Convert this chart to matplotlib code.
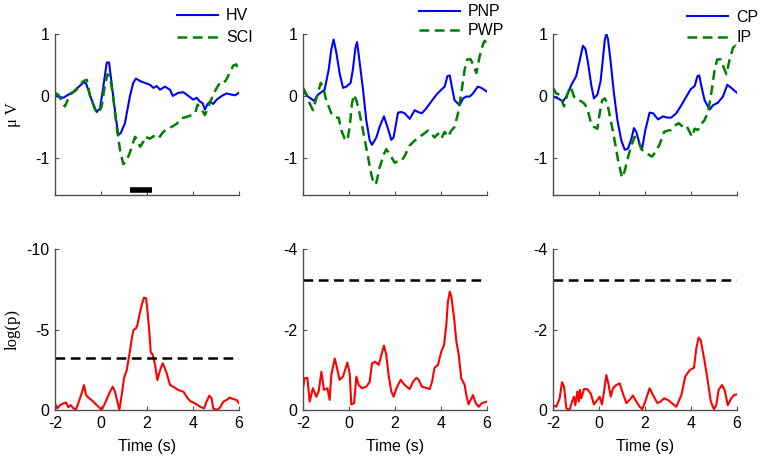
import numpy as np
import matplotlib
matplotlib.use('Agg')
import matplotlib.pyplot as plt

plt.rcParams['font.family'] = ['Liberation Sans', 'DejaVu Sans']
plt.rcParams['axes.unicode_minus'] = False
plt.rcParams['lines.scale_dashes'] = False

# ---- ERP curves (uV) ----
t_hv = [-2, -1.64, -1.2, -0.75, -0.65, -0.4, -0.19, -0.04, 0.1, 0.25, 0.35, 0.46, 0.6, 0.75, 0.86,
        1.04, 1.26, 1.4, 1.52, 1.7, 1.91, 2.13, 2.28, 2.42, 2.57, 2.78, 3.0, 3.12, 3.36, 3.58,
        3.8, 4.01, 4.16, 4.3, 4.42, 4.52, 4.62, 4.74, 4.88, 5.03, 5.25, 5.46, 5.68, 5.83, 6.0]
hv = [0, -0.03, 0.07, 0.22, 0.2, -0.07, -0.26, -0.2, 0.15, 0.54, 0.54, 0.21, -0.22, -0.63, -0.6,
      -0.44, 0, 0.21, 0.28, 0.24, 0.21, 0.18, 0.13, 0.16, 0.1, 0.15, 0.1, 0, 0.05, 0.06,
      0, -0.06, -0.03, -0.09, -0.12, -0.22, -0.14, -0.09, -0.13, -0.06, 0, 0.04, 0.02, 0.01, 0.05]

t_sci = [-2, -1.86, -1.57, -1.35, -1.06, -0.77, -0.62, -0.48, -0.26, -0.12, 0.03, 0.17, 0.29, 0.39, 0.54,
         0.68, 0.83, 0.97, 1.09, 1.26, 1.48, 1.58, 1.7, 1.84, 1.91, 2.13, 2.28, 2.49, 2.71, 2.93,
         3.07, 3.29, 3.51, 3.72, 3.94, 4.09, 4.2, 4.38, 4.52, 4.67, 4.88, 5.03, 5.17, 5.32, 5.46,
         5.6, 5.75, 5.87, 6.0]
sci = [0.05, 0.02, -0.17, 0.02, 0.1, 0.24, 0.26, 0, -0.22, -0.28, -0.17, 0.18, 0.35, 0.32, -0.06,
       -0.5, -0.88, -1.1, -1.07, -0.91, -0.66, -0.72, -0.82, -0.74, -0.66, -0.69, -0.65, -0.69, -0.58, -0.52,
       -0.5, -0.45, -0.36, -0.34, -0.31, -0.28, -0.14, -0.22, -0.31, -0.17, 0.02, 0.13, 0.21, 0.2, 0.27,
       0.38, 0.49, 0.51, 0.43]

t_pnp = [-2, -1.78, -1.52, -1.35, -1.06, -0.88, -0.77, -0.67, -0.55, -0.41, -0.26, -0.12, 0.07, 0.17, 0.28,
         0.35, 0.43, 0.61, 0.75, 0.9, 1.0, 1.19, 1.33, 1.52, 1.67, 1.84, 1.94, 2.13, 2.28, 2.42,
         2.64, 2.86, 3.0, 3.17, 3.36, 3.58, 3.8, 4.01, 4.16, 4.28, 4.38, 4.48, 4.59, 4.81, 4.96,
         5.1, 5.25, 5.39, 5.6, 5.75, 6.0]
pnp = [0.07, -0.01, -0.08, 0.02, 0.1, 0.43, 0.75, 0.91, 0.7, 0.37, 0.13, 0.15, 0.21, 0.43, 0.78,
       0.87, 0.64, 0.1, -0.39, -0.72, -0.79, -0.67, -0.5, -0.33, -0.5, -0.71, -0.67, -0.27, -0.26, -0.28,
       -0.37, -0.23, -0.26, -0.28, -0.2, -0.09, 0.02, 0.1, 0.15, 0.32, 0.33, 0.13, -0.07, -0.15, -0.04,
       -0.01, -0.01, 0.04, 0.15, 0.13, 0.07]

t_pwp = [-2, -1.86, -1.71, -1.57, -1.42, -1.23, -1.13, -0.99, -0.77, -0.59, -0.45, -0.33, -0.19, -0.07, 0.03,
         0.13, 0.22, 0.32, 0.46, 0.61, 0.83, 0.97, 1.09, 1.19, 1.33, 1.52, 1.62, 1.77, 1.99, 2.13,
         2.28, 2.42, 2.64, 2.86, 3.07, 3.26, 3.43, 3.58, 3.72, 3.87, 4.01, 4.16, 4.3, 4.45, 4.59,
         4.74, 4.88, 5.03, 5.14, 5.29, 5.39, 5.54, 5.68, 5.83, 5.9, 6.0]
pwp = [0.13, 0.04, -0.12, -0.23, -0.04, 0.21, 0.15, -0.07, -0.28, -0.35, -0.35, -0.56, -0.69, -0.72, -0.5,
       -0.12, 0.02, -0.07, -0.28, -0.56, -0.99, -1.27, -1.43, -1.4, -1.16, -0.94, -0.86, -0.94, -1.08, -1.05,
       -1.05, -0.97, -0.8, -0.72, -0.66, -0.61, -0.56, -0.61, -0.67, -0.61, -0.69, -0.58, -0.66, -0.56, -0.5,
       -0.28, 0.04, 0.43, 0.59, 0.59, 0.51, 0.37, 0.64, 0.84, 0.89, 0.81]

t_cp = [-2, -1.78, -1.57, -1.42, -1.2, -0.99, -0.84, -0.7, -0.59, -0.48, -0.33, -0.22, -0.07, 0.07, 0.17,
        0.25, 0.32, 0.39, 0.51, 0.65, 0.8, 0.97, 1.12, 1.26, 1.41, 1.52, 1.62, 1.77, 1.88, 2.01,
        2.2, 2.35, 2.57, 2.78, 2.97, 3.14, 3.36, 3.58, 3.8, 3.99, 4.16, 4.28, 4.36, 4.45, 4.59,
        4.81, 4.96, 5.17, 5.39, 5.58, 5.75, 6.0]
cp = [-0.01, -0.04, -0.09, -0.01, 0.18, 0.32, 0.57, 0.81, 0.76, 0.54, 0.16, -0.04, 0.02, 0.24, 0.6,
      0.9, 1.0, 0.92, 0.54, 0.04, -0.39, -0.72, -0.87, -0.85, -0.69, -0.52, -0.58, -0.78, -0.84, -0.56,
      -0.27, -0.28, -0.38, -0.33, -0.35, -0.35, -0.28, -0.15, -0.01, 0.11, 0.16, 0.32, 0.33, 0.16, -0.07,
      -0.22, -0.15, -0.11, -0.01, 0.18, 0.13, 0.05]

t_ip = [-2, -1.86, -1.71, -1.52, -1.38, -1.23, -1.09, -0.94, -0.8, -0.65, -0.51, -0.36, -0.22, -0.07, 0.03,
        0.14, 0.25, 0.36, 0.51, 0.65, 0.83, 1.0, 1.12, 1.26, 1.41, 1.55, 1.7, 1.84, 1.99, 2.13,
        2.3, 2.45, 2.64, 2.83, 3.0, 3.14, 3.29, 3.46, 3.65, 3.8, 3.94, 4.04, 4.16, 4.3, 4.45,
        4.59, 4.74, 4.88, 5.03, 5.14, 5.29, 5.43, 5.54, 5.68, 5.83, 5.93, 6.0]
ip = [0.13, 0.04, 0.02, -0.17, 0.02, 0.15, -0.01, -0.07, -0.08, -0.12, -0.2, -0.42, -0.5, -0.53, -0.28,
      -0.07, -0.04, -0.12, -0.39, -0.66, -1.04, -1.32, -1.21, -0.99, -0.8, -0.66, -0.72, -0.86, -0.91, -0.94,
      -0.98, -0.91, -0.78, -0.58, -0.56, -0.55, -0.48, -0.44, -0.5, -0.48, -0.58, -0.66, -0.53, -0.55, -0.45,
      -0.39, -0.26, 0.04, 0.43, 0.59, 0.59, 0.45, 0.35, 0.59, 0.78, 0.81, 0.73]

# ---- p-value curves (|log p|, drawn as log p) ----
t_p1 = [-2, -1.9, -1.78, -1.64, -1.52, -1.42, -1.32, -1.2, -1.09, -0.99, -0.84, -0.74, -0.65, -0.55, -0.41,
        -0.19, 0.03, 0.17, 0.36, 0.51, 0.61, 0.71, 0.8, 0.9, 1.0, 1.12, 1.23, 1.33, 1.41, 1.52,
        1.58, 1.67, 1.77, 1.87, 1.96, 2.01, 2.1, 2.16, 2.25, 2.35, 2.45, 2.57, 2.68, 2.78, 2.88,
        3.0, 3.14, 3.36, 3.58, 3.72, 3.87, 4.09, 4.3, 4.48, 4.59, 4.71, 4.81, 4.88, 5.03, 5.17,
        5.32, 5.46, 5.6, 5.75, 5.9, 6.0]
p1 = [0.41, 0.1, 0.3, 0.41, 0.46, 0.17, 0.31, 0.1, 0.04, 0.41, 1.04, 1.55, 0.93, 0.77, 0.62,
      0.31, 0, 0.41, 1.04, 1.45, 1.14, 0.52, 0, 0.93, 1.97, 2.48, 3.42, 4.35, 4.97, 5.07,
      5.28, 5.9, 6.52, 6.98, 6.94, 6.31, 4.87, 3.62, 3.42, 2.8, 1.86, 2.48, 2.9, 2.59, 2.17,
      1.55, 1.45, 1.24, 1.14, 0.83, 0.56, 0.41, 0.21, 0.1, 0.52, 0.89, 0.72, 0.1, 0, 0.14,
      0.52, 0.62, 0.77, 0.68, 0.62, 0.41]

t_p2 = [-2, -1.93, -1.81, -1.71, -1.57, -1.42, -1.32, -1.2, -1.09, -0.94, -0.84, -0.77, -0.62, -0.52, -0.41,
        -0.26, -0.07, 0.03, 0.1, 0.22, 0.32, 0.42, 0.57, 0.75, 0.9, 1.0, 1.14, 1.29, 1.41, 1.52,
        1.62, 1.72, 1.84, 1.94, 2.06, 2.25, 2.42, 2.64, 2.78, 2.93, 3.03, 3.17, 3.36, 3.51, 3.61,
        3.72, 3.87, 4.01, 4.13, 4.23, 4.3, 4.38, 4.45, 4.57, 4.67, 4.77, 4.88, 5.03, 5.1, 5.2,
        5.29, 5.39, 5.51, 5.64, 5.78, 6.0]
p2 = [0.54, 0.79, 0.8, 0.21, 0.54, 0.33, 0.46, 0.95, 0.5, 0.54, 0.25, 0.87, 1.28, 1.04, 0.75,
      0.83, 1.18, 0.91, 0.14, 0.17, 0.83, 0.62, 0.54, 0.58, 0.7, 1.16, 1.2, 1.12, 1.37, 1.6,
      1.37, 0.87, 0.46, 0.33, 0.54, 0.75, 0.62, 0.52, 0.7, 0.8, 0.75, 0.58, 0.55, 0.52, 0.7,
      1.05, 1.12, 1.45, 1.61, 2.11, 2.69, 2.94, 2.82, 2.28, 1.7, 1.37, 0.79, 0.62, 0.37, 0.14,
      0.25, 0.37, 0.17, 0.08, 0.17, 0.21]

t_p3 = [-2, -1.86, -1.71, -1.61, -1.52, -1.42, -1.28, -1.17, -1.09, -1.03, -0.94, -0.88, -0.83, -0.77, -0.65,
        -0.51, -0.36, -0.22, -0.07, 0.03, 0.13, 0.22, 0.32, 0.42, 0.51, 0.61, 0.75, 0.9, 1.04, 1.19,
        1.33, 1.48, 1.62, 1.77, 1.88, 2.01, 2.2, 2.35, 2.54, 2.68, 2.83, 3.0, 3.17, 3.36, 3.58,
        3.75, 3.94, 4.13, 4.23, 4.33, 4.42, 4.57, 4.71, 4.86, 5.0, 5.1, 5.2, 5.35, 5.46, 5.6,
        5.75, 5.87, 6.0]
p3 = [0.12, 0.08, 0.29, 0.69, 0.58, 0.04, 0, 0.21, 0.33, 0.12, 0.46, 0.21, 0.5, 0.29, 0.52,
      0.52, 0.41, 0.14, 0.25, 0.33, 0.14, 0.46, 0.87, 0.62, 0.33, 0.54, 0.62, 0.66, 0.41, 0.17,
      0.25, 0.36, 0.21, 0.08, 0.02, 0.21, 0.54, 0.37, 0.17, 0.21, 0.29, 0.25, 0.17, 0.08, 0.37,
      0.83, 0.99, 1.05, 1.53, 1.8, 1.74, 1.28, 0.79, 0.21, 0.02, 0.12, 0.5, 0.62, 0.5, 0.12,
      0.29, 0.37, 0.39]

threshold = -3.22
sig_window = [1.25, 2.2]
sig_level = -1.52

top_sets = [(t_hv, hv, 'HV', t_sci, sci, 'SCI'),
            (t_pnp, pnp, 'PNP', t_pwp, pwp, 'PWP'),
            (t_cp, cp, 'CP', t_ip, ip, 'IP')]
bottom_sets = [(t_p1, p1, -10, [-10, -5, 0]),
               (t_p2, p2, -4, [-4, -2, 0]),
               (t_p3, p3, -4, [-4, -2, 0])]
legend_anchor = [(1.11, 1.20), (1.13, 1.225), (1.15, 1.19)]
legend_space = [0.45, 0.25, 0.35]

fig = plt.figure(figsize=(7.67, 4.62), dpi=100)
lefts = [55 / 767, 303 / 767, 553 / 767]
w = 184 / 767
h = 161 / 462
spine_col = '#505050'


def style(ax):
    for s in ['top', 'right']:
        ax.spines[s].set_visible(False)
    for s in ['left', 'bottom']:
        ax.spines[s].set_color(spine_col)
        ax.spines[s].set_linewidth(1.0)
    ax.tick_params(direction='in', length=3, width=0.8, color=spine_col, labelsize=11.5, pad=4)
    ax.set_xlim(-2, 6)
    ax.set_xticks([-2, 0, 2, 4, 6])


for i in range(3):
    ax = fig.add_axes([lefts[i], 1 - 195 / 462, w, h])
    ta, a, la, tb, b, lb = top_sets[i]
    ax.plot(ta, a, color='#0000ff', lw=1.5, label=la)
    ax.plot(tb, b, color='#008000', lw=1.8, dashes=(7, 4), label=lb)
    if i == 0:
        ax.plot(sig_window, [sig_level, sig_level], color='black', lw=4, solid_capstyle='butt')
        ax.set_ylabel('\u03bc V', family='Liberation Serif', fontsize=12, labelpad=10)
    style(ax)
    ax.set_ylim(-1.6, 1)
    ax.set_yticks([-1, 0, 1])
    ax.set_xticklabels([])
    ax.legend(loc='upper right', bbox_to_anchor=legend_anchor[i], frameon=False, fontsize=11.5,
              handlelength=2.6, labelspacing=legend_space[i], handletextpad=0.5, borderaxespad=0)

    ax2 = fig.add_axes([lefts[i], 1 - 410 / 462, w, h])
    tp, p, ymax, yt = bottom_sets[i]
    ax2.plot(tp, np.negative(p), color='#ff0000', lw=1.5)
    ax2.plot([-2, 6], [threshold, threshold], color='black', lw=1.8, dashes=(7, 4))
    style(ax2)
    ax2.set_ylim(0, ymax)
    ax2.set_yticks(yt)
    ax2.set_xlabel('Time (s)', fontsize=11.5, labelpad=6)
    if i == 0:
        ax2.set_ylabel('log(p)', family='Liberation Serif', fontsize=12, labelpad=4)

fig.savefig('out.png', dpi=100)
